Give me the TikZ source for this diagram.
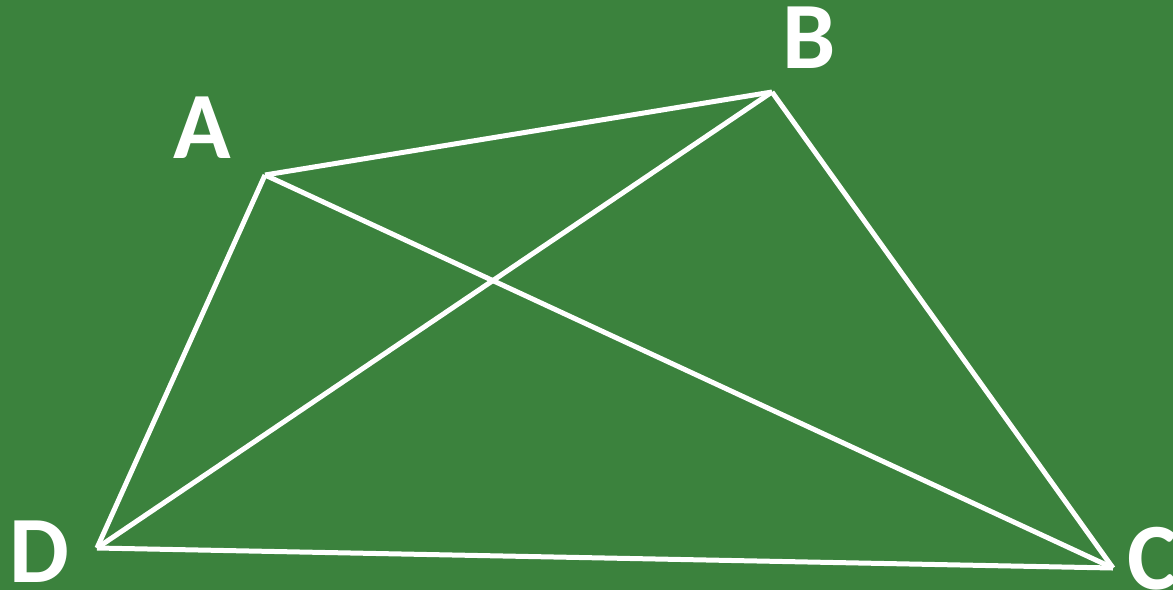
\documentclass[tikz,border=0pt]{standalone}
\usepackage{fontspec}
\setmainfont{Carlito}
\definecolor{board}{RGB}{59,130,61}
\begin{document}
\begin{tikzpicture}[x=1pt,y=-1pt,
  edge/.style={draw=white,line width=5pt},
  lbl/.style={text=white,font=\fontsize{95}{95}\selectfont\bfseries,inner sep=0pt,anchor=base,text height=0.64em,text depth=0pt}]
\fill[board] (0,0) rectangle (1173,590);
\useasboundingbox (0,0) rectangle (1173,590);
\coordinate (A) at (265,175);
\coordinate (B) at (772,92);
\coordinate (C) at (1113,568);
\coordinate (D) at (97,548);
\draw[edge] (A) -- (B);
\draw[edge] (B) -- (C);
\draw[edge] (C) -- (D);
\draw[edge] (D) -- (A);
\draw[edge] (A) -- (C);
\draw[edge] (B) -- (D);
\node[lbl] (la) at (202,158) {A};
\node[lbl] (lb) at (809,68) {B};
\node[lbl] (ld) at (39,582) {D};
\node[lbl] (lc) at (1153,589) {C};
\end{tikzpicture}
\end{document}
